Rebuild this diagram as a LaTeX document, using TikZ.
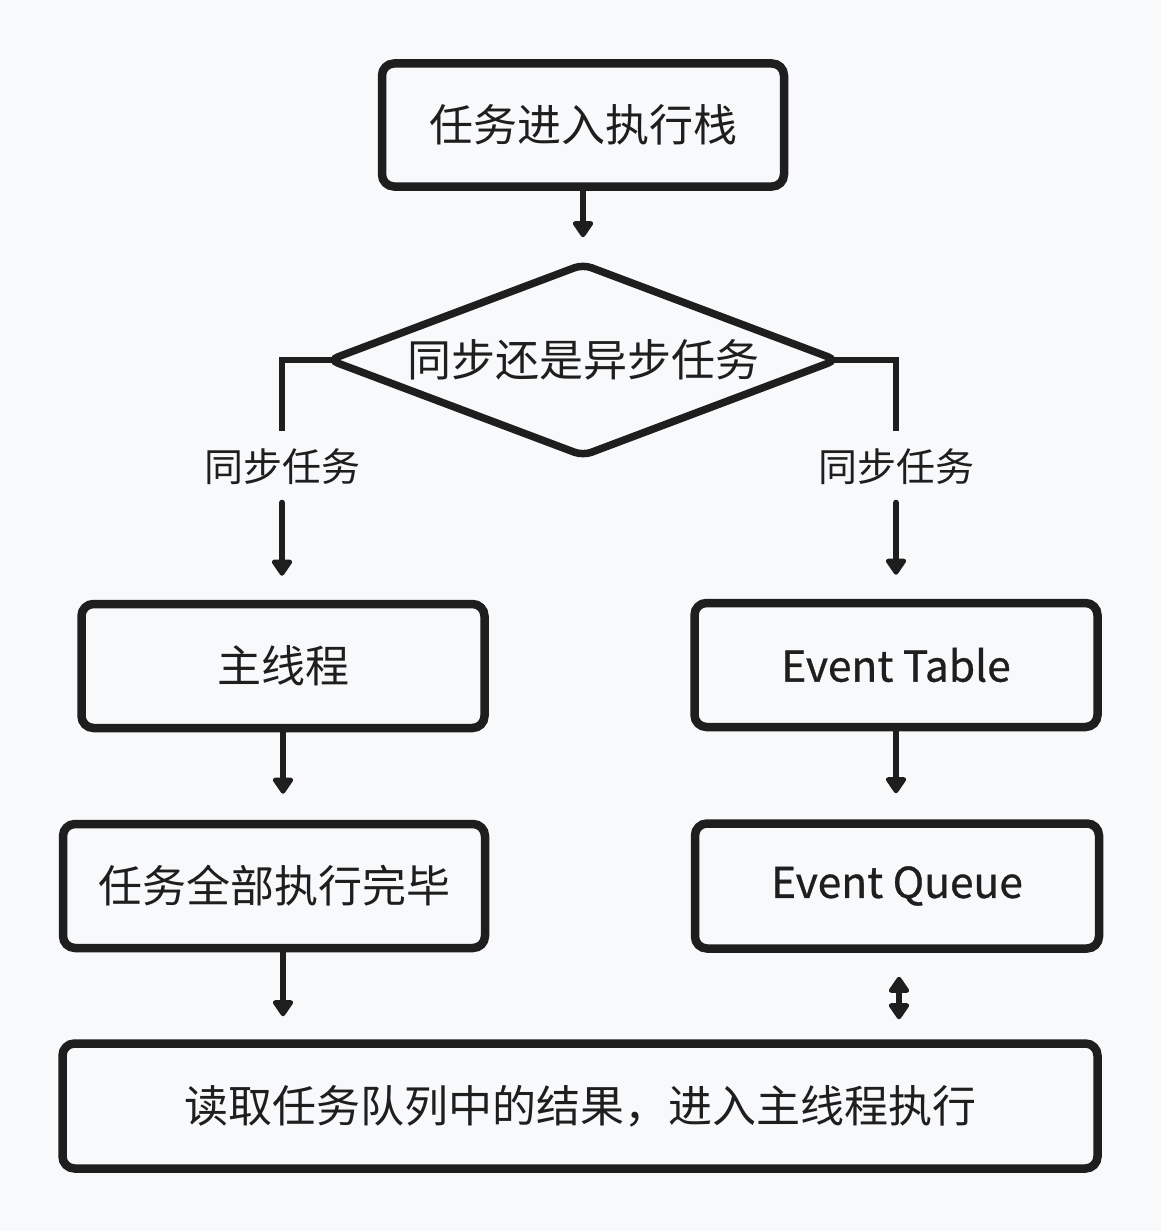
\documentclass[tikz,border=0pt]{standalone}
\usepackage{fontspec}
\setmainfont{Noto Sans CJK SC}
\newfontfamily\evfont[FakeBold=0.7]{Noto Sans CJK SC}
\usetikzlibrary{shapes.geometric,arrows.meta,calc}
\definecolor{bg}{HTML}{F8F9FB}
\definecolor{ink}{HTML}{1E1E1E}
\begin{document}
\begin{tikzpicture}[x=1pt,y=-1pt,
  box/.style={draw=ink,line width=8.5pt,rounded corners=12pt,fill=bg,text=ink,
    inner sep=0pt,font=\fontsize{44}{50}\selectfont},
  evbox/.style={box,font=\evfont\fontsize{42.5}{48}\selectfont},
  lbl/.style={text=ink,inner sep=0pt,minimum height=71pt,font=\fontsize{39}{44}\selectfont},
  arr/.style={draw=ink,line width=6pt,line cap=round,-{Triangle[width=23pt,length=18pt,round]}},
  darr/.style={draw=ink,line width=6pt,{Triangle[width=23pt,length=18pt,round]}-{Triangle[width=23pt,length=18pt,round]}},
  conn/.style={draw=ink,line width=6pt}]
\useasboundingbox[fill=bg] (0,0) rectangle (1161,1231);
\node[box,minimum width=402pt,minimum height=123pt] (start) at (583,125) {任务进入执行栈};
\node[diamond,draw=ink,line width=7.5pt,rounded corners=9pt,aspect=2.63,inner sep=0pt,
  minimum width=510pt,minimum height=194pt,text=ink,font=\fontsize{44}{50}\selectfont] (dec) at (583,360) {同步还是异步任务};
\node[lbl] (lblL) at (282,467) {同步任务};
\node[lbl] (lblR) at (896,467) {同步任务};
\node[box,minimum width=403pt,minimum height=124pt] (main) at (283,666) {主线程};
\node[evbox,minimum width=403pt,minimum height=124pt] (etab) at (896,665) {Event Table};
\node[box,minimum width=422pt,minimum height=124pt] (done) at (274,886) {任务全部执行完毕};
\node[evbox,minimum width=404pt,minimum height=125pt] (eq) at (897,886) {Event Queue};
\node[box,minimum width=1035pt,minimum height=125pt] (read) at (580,1106) {读取任务队列中的结果，进入主线程执行};
\draw[arr,shorten >=22pt] (start.south) -- (dec.north);
\draw[conn] ([xshift=9pt]dec.west) -| (lblL.north);
\draw[conn] ([xshift=-9pt]dec.east) -| (lblR.north);
\draw[arr,shorten >=24pt] (lblL.south) -- (lblL.south |- main.north);
\draw[arr,shorten >=24pt] (lblR.south) -- (lblR.south |- etab.north);
\draw[arr,shorten >=26pt] (main.south) -- (main.south |- done.north);
\draw[arr,shorten >=26pt] (etab.south) -- (eq.north -| etab.south);
\draw[arr,shorten >=23pt] (done.south -| main.south) -- (main.south |- read.north);
\draw[darr,shorten <=24pt,shorten >=20pt] ([xshift=2pt]eq.south) -- ([xshift=2pt]eq.south |- read.north);
\end{tikzpicture}
\end{document}
